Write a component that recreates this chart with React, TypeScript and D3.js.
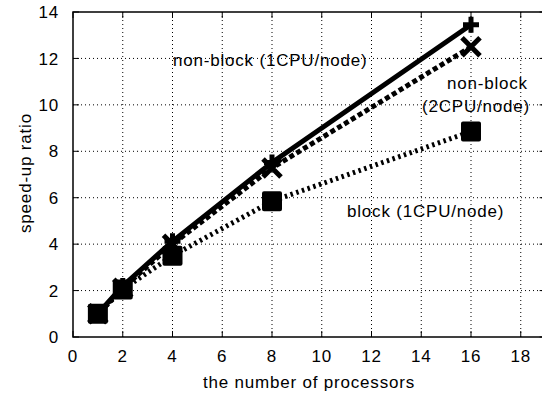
import React, { useEffect, useRef } from 'react';
import * as d3 from 'd3';

const procs = [1, 2, 4, 8, 16];
const nonBlock1 = [1.0, 2.2, 4.12, 7.52, 13.45];
const nonBlock2 = [1.0, 2.1, 4.0, 7.28, 12.5];
const block1 = [1.0, 2.05, 3.5, 5.85, 8.85];
const xTicks = [0, 2, 4, 6, 8, 10, 12, 14, 16, 18];
const yTicks = [0, 2, 4, 6, 8, 10, 12, 14];

const W = 542;
const H = 396;

const App: React.FC = () => {
  const svgRef = useRef<SVGSVGElement>(null);

  useEffect(() => {
    if (!svgRef.current) return;
    const svg = d3.select(svgRef.current);
    svg.selectAll('*').remove();

    const x = d3.scaleLinear().domain([0, 19]).range([73, 73 + 19 * 24.875]);
    const y = d3.scaleLinear().domain([0, 14]).range([337, 12]);
    const font = 'Liberation Sans, Arial, sans-serif';

    const txt = (sel: d3.Selection<SVGTextElement, unknown, null, undefined>) =>
      sel.style('font-family', font).style('font-size', '17px').style('letter-spacing', '0.8px');

    const g = svg.append('g');

    // grid
    xTicks.filter(t => t > 0).forEach(t => {
      g.append('line')
        .attr('x1', x(t)).attr('x2', x(t))
        .attr('y1', y(0)).attr('y2', y(14))
        .attr('stroke', '#000').attr('stroke-width', 1)
        .attr('stroke-dasharray', '1,3');
    });
    yTicks.filter(t => t > 0 && t < 14).forEach(t => {
      g.append('line')
        .attr('x1', x(0)).attr('x2', x(19))
        .attr('y1', y(t)).attr('y2', y(t))
        .attr('stroke', '#000').attr('stroke-width', 1)
        .attr('stroke-dasharray', '1,3');
    });

    // border
    g.append('rect')
      .attr('x', x(0)).attr('y', y(14))
      .attr('width', x(19) - x(0)).attr('height', y(0) - y(14))
      .attr('fill', 'none').attr('stroke', '#000').attr('stroke-width', 1.5);

    // ticks
    xTicks.forEach(t => {
      g.append('line').attr('x1', x(t)).attr('x2', x(t))
        .attr('y1', y(0)).attr('y2', y(0) - 6).attr('stroke', '#000');
      g.append('line').attr('x1', x(t)).attr('x2', x(t))
        .attr('y1', y(14)).attr('y2', y(14) + 6).attr('stroke', '#000');
      g.append('text')
        .attr('x', x(t)).attr('y', y(0) + 25)
        .attr('text-anchor', 'middle')
        .call(txt)
        .text(t);
    });
    yTicks.forEach(t => {
      g.append('line').attr('x1', x(0)).attr('x2', x(0) + 6)
        .attr('y1', y(t)).attr('y2', y(t)).attr('stroke', '#000');
      g.append('line').attr('x1', x(19)).attr('x2', x(19) - 6)
        .attr('y1', y(t)).attr('y2', y(t)).attr('stroke', '#000');
      g.append('text')
        .attr('x', x(0) - 14).attr('y', y(t)).attr('dy', '0.36em')
        .attr('text-anchor', 'end')
        .call(txt)
        .text(t);
    });

    // axis titles
    g.append('text')
      .attr('x', 309).attr('y', 388)
      .attr('text-anchor', 'middle')
      .call(txt)
      .text('the number of processors');
    g.append('text')
      .attr('transform', `translate(31,173) rotate(-90)`)
      .attr('text-anchor', 'middle')
      .call(txt)
      .text('speed-up ratio');

    const line = d3.line<number>()
      .x((d, i) => x(procs[i]))
      .y(d => y(d));

    // series
    g.append('path').datum(block1).attr('d', line)
      .attr('fill', 'none').attr('stroke', '#000').attr('stroke-width', 5)
      .attr('stroke-dasharray', '2.5,3.5');
    g.append('path').datum(nonBlock2).attr('d', line)
      .attr('fill', 'none').attr('stroke', '#000').attr('stroke-width', 5)
      .attr('stroke-dasharray', '5,3');
    g.append('path').datum(nonBlock1).attr('d', line)
      .attr('fill', 'none').attr('stroke', '#000').attr('stroke-width', 5);

    // markers
    block1.forEach((v, i) => {
      const cx = x(procs[i]);
      const cy = y(v);
      g.append('rect')
        .attr('x', cx - 8).attr('y', cy - 8)
        .attr('width', 16).attr('height', 16)
        .attr('fill', '#000').attr('stroke', '#000').attr('stroke-width', 4)
        .attr('stroke-linejoin', 'round');
    });
    nonBlock2.forEach((v, i) => {
      const cx = x(procs[i]);
      const cy = y(v);
      const s = 9;
      g.append('path')
        .attr('d', `M${cx - s},${cy - s}L${cx + s},${cy + s}M${cx - s},${cy + s}L${cx + s},${cy - s}`)
        .attr('stroke', '#000').attr('stroke-width', 5).attr('fill', 'none');
    });
    nonBlock1.forEach((v, i) => {
      const cx = x(procs[i]);
      const cy = y(v);
      const s = 8;
      g.append('path')
        .attr('d', `M${cx - s},${cy}L${cx + s},${cy}M${cx},${cy - s}L${cx},${cy + s}`)
        .attr('stroke', '#000').attr('stroke-width', 5).attr('fill', 'none');
    });

    // in-plot labels
    const label = (tx: number, ty: number, s: string) => {
      g.append('text')
        .attr('x', tx).attr('y', ty).attr('dy', '0.36em')
        .call(txt)
        .text(s);
    };
    label(173, 60, 'non-block (1CPU/node)');
    label(447, 83, 'non-block');
    label(422, 106, '(2CPU/node)');
    label(347, 211, 'block (1CPU/node)');
  }, []);

  return (
    <svg ref={svgRef} width={W} height={H}
      style={{ position: 'absolute', left: 0, top: 0, background: '#fff' }} />
  );
};

export default App;
